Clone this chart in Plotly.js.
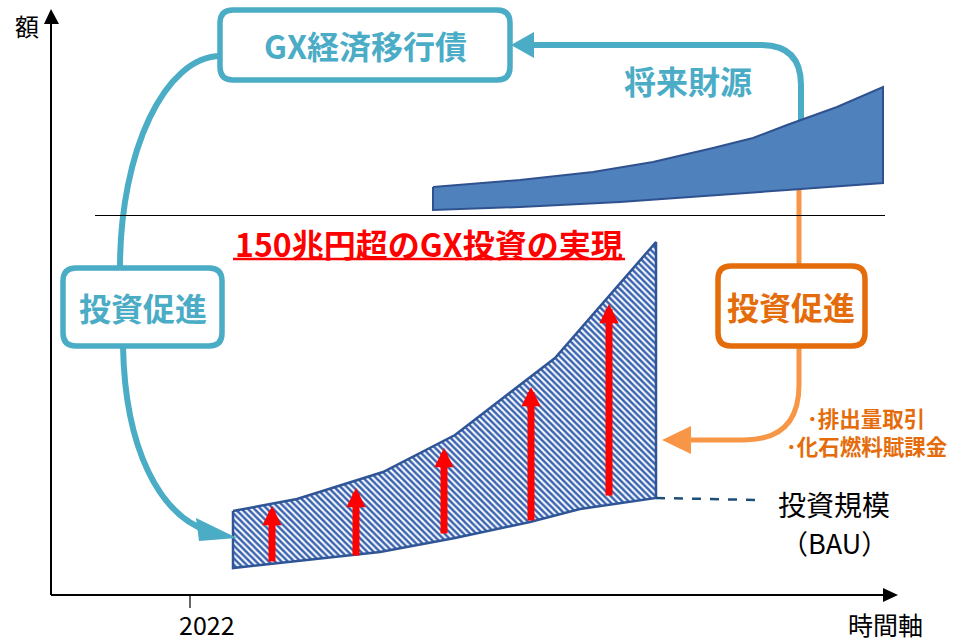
<!DOCTYPE html>
<html><head><meta charset="utf-8">
<script src="https://cdn.plot.ly/plotly-3.0.1.min.js"></script>
<style>html,body{margin:0;padding:0;background:#fff}#chart{width:957px;height:643px}</style>
</head><body><div id="chart"></div>
<script>
// ---- data (x: time position, y: amount) ----
const bauTopX   = [233, 297, 383, 455, 555, 656];
const bauTopV   = [84, 96, 123, 160, 237, 353];
const bauBotX   = [233, 300, 380, 455, 530, 580, 656];
const bauBotV   = [27, 34, 43, 57, 73, 86, 97];
const futTopX   = [433, 520, 593, 653, 713, 753, 787, 837, 883];
const futTopV   = [408, 415, 423, 433, 447, 457, 470, 488, 508];
const futBotX   = [433, 520, 620, 720, 787, 883];
const futBotV   = [385, 388, 393, 400, 405, 412];
const arrowX    = [272, 356, 444, 531, 609];
const arrowFrom = [32, 38, 60, 73, 98];
const arrowTo   = [89, 107, 147, 208, 291];
const tickYear  = ['2022'];
const tickYearX = [190];

// ---- helpers ----
const BASE = 595;
function P(px, py){ return px + ',' + (BASE - py); }
function rr(x0, y0, x1, y1, r){
  return 'M' + P(x0 + r, y0) + ' L' + P(x1 - r, y0) + ' Q' + P(x1, y0) + ' ' + P(x1, y0 + r) +
         ' L' + P(x1, y1 - r) + ' Q' + P(x1, y1) + ' ' + P(x1 - r, y1) +
         ' L' + P(x0 + r, y1) + ' Q' + P(x0, y1) + ' ' + P(x0, y1 - r) +
         ' L' + P(x0, y0 + r) + ' Q' + P(x0, y0) + ' ' + P(x0 + r, y0) + ' Z';
}
function poly(pts){ return 'M' + pts.map(p => P(p[0], p[1])).join(' L') + ' Z'; }

const TEAL = '#4BACC6', ORANGE = '#E46C0A', ORANGE_L = '#F79646', RED = '#FF0000';
const JP = '"Noto Sans CJK JP", "Noto Sans", sans-serif';

function closed(xa, ya, xb, yb){
  const x = xa.concat(xb.slice().reverse()); x.push(xa[0]);
  const y = ya.concat(yb.slice().reverse()); y.push(ya[0]);
  return {x, y};
}
const bau = closed(bauTopX, bauTopV, bauBotX, bauBotV);
const fut = closed(futTopX, futTopV, futBotX, futBotV);

const traces = [
  {type:'scatter', mode:'lines', x:bau.x, y:bau.y, fill:'toself',
   fillcolor:'#ffffff',
   fillpattern:{shape:'\\', fgcolor:'#3A64B0', bgcolor:'#ffffff', size:4.5, solidity:0.55},
   line:{color:'#2F5597', width:2.5}, hoverinfo:'skip', showlegend:false},
  {type:'scatter', mode:'lines', x:fut.x, y:fut.y, fill:'toself',
   fillcolor:'#4F81BD', line:{color:'#2F528F', width:2}, hoverinfo:'skip', showlegend:false}
];

const shapes = [
  {type:'path', layer:'below', path:'M' + P(801,140) + ' L' + P(801,85) + ' Q' + P(801,45) + ' ' + P(761,45) + ' L' + P(532,45),
   line:{color:TEAL, width:6}},
  {type:'path', layer:'below', path:'M' + P(799,180) + ' L' + P(799,266), line:{color:ORANGE_L, width:5}},
  {type:'path', path:'M' + P(799,346) + ' L' + P(799,385) + ' Q' + P(799,440) + ' ' + P(744,440) + ' L' + P(688,440),
   line:{color:ORANGE_L, width:5}},
  {type:'path', path:poly([[662,440],[691,426],[691,454]]), fillcolor:ORANGE_L, line:{width:0}},
  {type:'path', path:poly([[511,45],[534,32],[534,58]]), fillcolor:TEAL, line:{width:0}},
  {type:'path', path:'M' + P(221,56) + ' C' + P(165,56) + ' ' + P(120,151) + ' ' + P(120,268), line:{color:TEAL, width:6}},
  {type:'path', path:'M' + P(123,346) + ' C' + P(125,450) + ' ' + P(160,515) + ' ' + P(208,531), line:{color:TEAL, width:6}},
  {type:'path', path:poly([[237,538],[196,518],[199,541]]), fillcolor:TEAL, line:{width:0}},
  {type:'path', path:rr(220,10,510,80,13), fillcolor:'#ffffff', line:{color:TEAL, width:5.5}},
  {type:'path', path:rr(63,268,222,346,13), fillcolor:'#ffffff', line:{color:TEAL, width:5.5}},
  {type:'path', path:rr(718,266,865,346,13), fillcolor:'#ffffff', line:{color:ORANGE, width:5.5}},
  {type:'line', x0:95, x1:885, y0:BASE-215.5, y1:BASE-215.5, line:{color:'#000', width:1}},
  {type:'line', x0:233, x1:625, y0:BASE-259, y1:BASE-259, line:{color:RED, width:2.5}},
  {type:'line', x0:656, x1:760, y0:BASE-498, y1:BASE-500, line:{color:'#1F4E79', width:2.5, dash:'dash'}},
  {type:'line', x0:51, x1:51, y0:0, y1:BASE-22, line:{color:'#000', width:2}},
  {type:'path', path:poly([[51,9],[44,24],[59,24]]), fillcolor:'#000', line:{width:0}},
  {type:'line', x0:51, x1:884, y0:0, y1:0, line:{color:'#000', width:2}},
  {type:'path', path:poly([[898,595],[883,588],[883,602]]), fillcolor:'#000', line:{width:0}},
  {type:'line', x0:tickYearX[0], x1:tickYearX[0], y0:0, y1:BASE-608, line:{color:'#000', width:1.2}}
];

const annotations = [];
for (let i = 0; i < arrowX.length; i++){
  annotations.push({x:arrowX[i], y:arrowTo[i], ax:arrowX[i], ay:arrowFrom[i], axref:'x', ayref:'y',
    xref:'x', yref:'y', showarrow:true, arrowhead:2, arrowsize:0.55, arrowwidth:7, arrowcolor:RED, text:''});
}
function txt(t, px, py, size, color, bold, extra){
  return Object.assign({text: bold ? '<b>' + t + '</b>' : t, x:px, y:BASE-py, xref:'x', yref:'y', showarrow:false,
    font:{family:JP, size:size, color:color}, xanchor:'center', yanchor:'middle'}, extra || {});
}
annotations.push(
  txt('GX経済移行債', 365, 45, 32, TEAL, true),
  txt('投資促進', 143, 307, 32, TEAL, true),
  txt('投資促進', 791, 306, 32, ORANGE, true),
  txt('将来財源', 688, 80, 32, TEAL, true),
  txt('150兆円超のGX投資の実現', 429, 243, 32, RED, true),
  txt('･排出量取引', 866, 417, 21.5, ORANGE, true),
  txt('･化石燃料賦課金', 867, 445, 21.5, ORANGE, true),
  txt('投資規模', 834, 504, 28, '#000', false),
  txt('（BAU）', 834, 542, 27, '#000', false),
  txt('額', 27, 25, 24, '#000', false),
  txt(tickYear[0], 207, 624, 25, '#000', false),
  txt('時間軸', 885, 624, 25, '#000', false)
);

const layout = {
  width:957, height:643, margin:{l:0, r:0, t:0, b:0},
  paper_bgcolor:'#fff', plot_bgcolor:'#fff',
  xaxis:{range:[0,957], visible:false, fixedrange:true},
  yaxis:{range:[BASE-643, BASE], visible:false, fixedrange:true},
  shapes:shapes, annotations:annotations, showlegend:false
};
Plotly.newPlot('chart', traces, layout, {staticPlot:true, displayModeBar:false});
</script></body></html>
